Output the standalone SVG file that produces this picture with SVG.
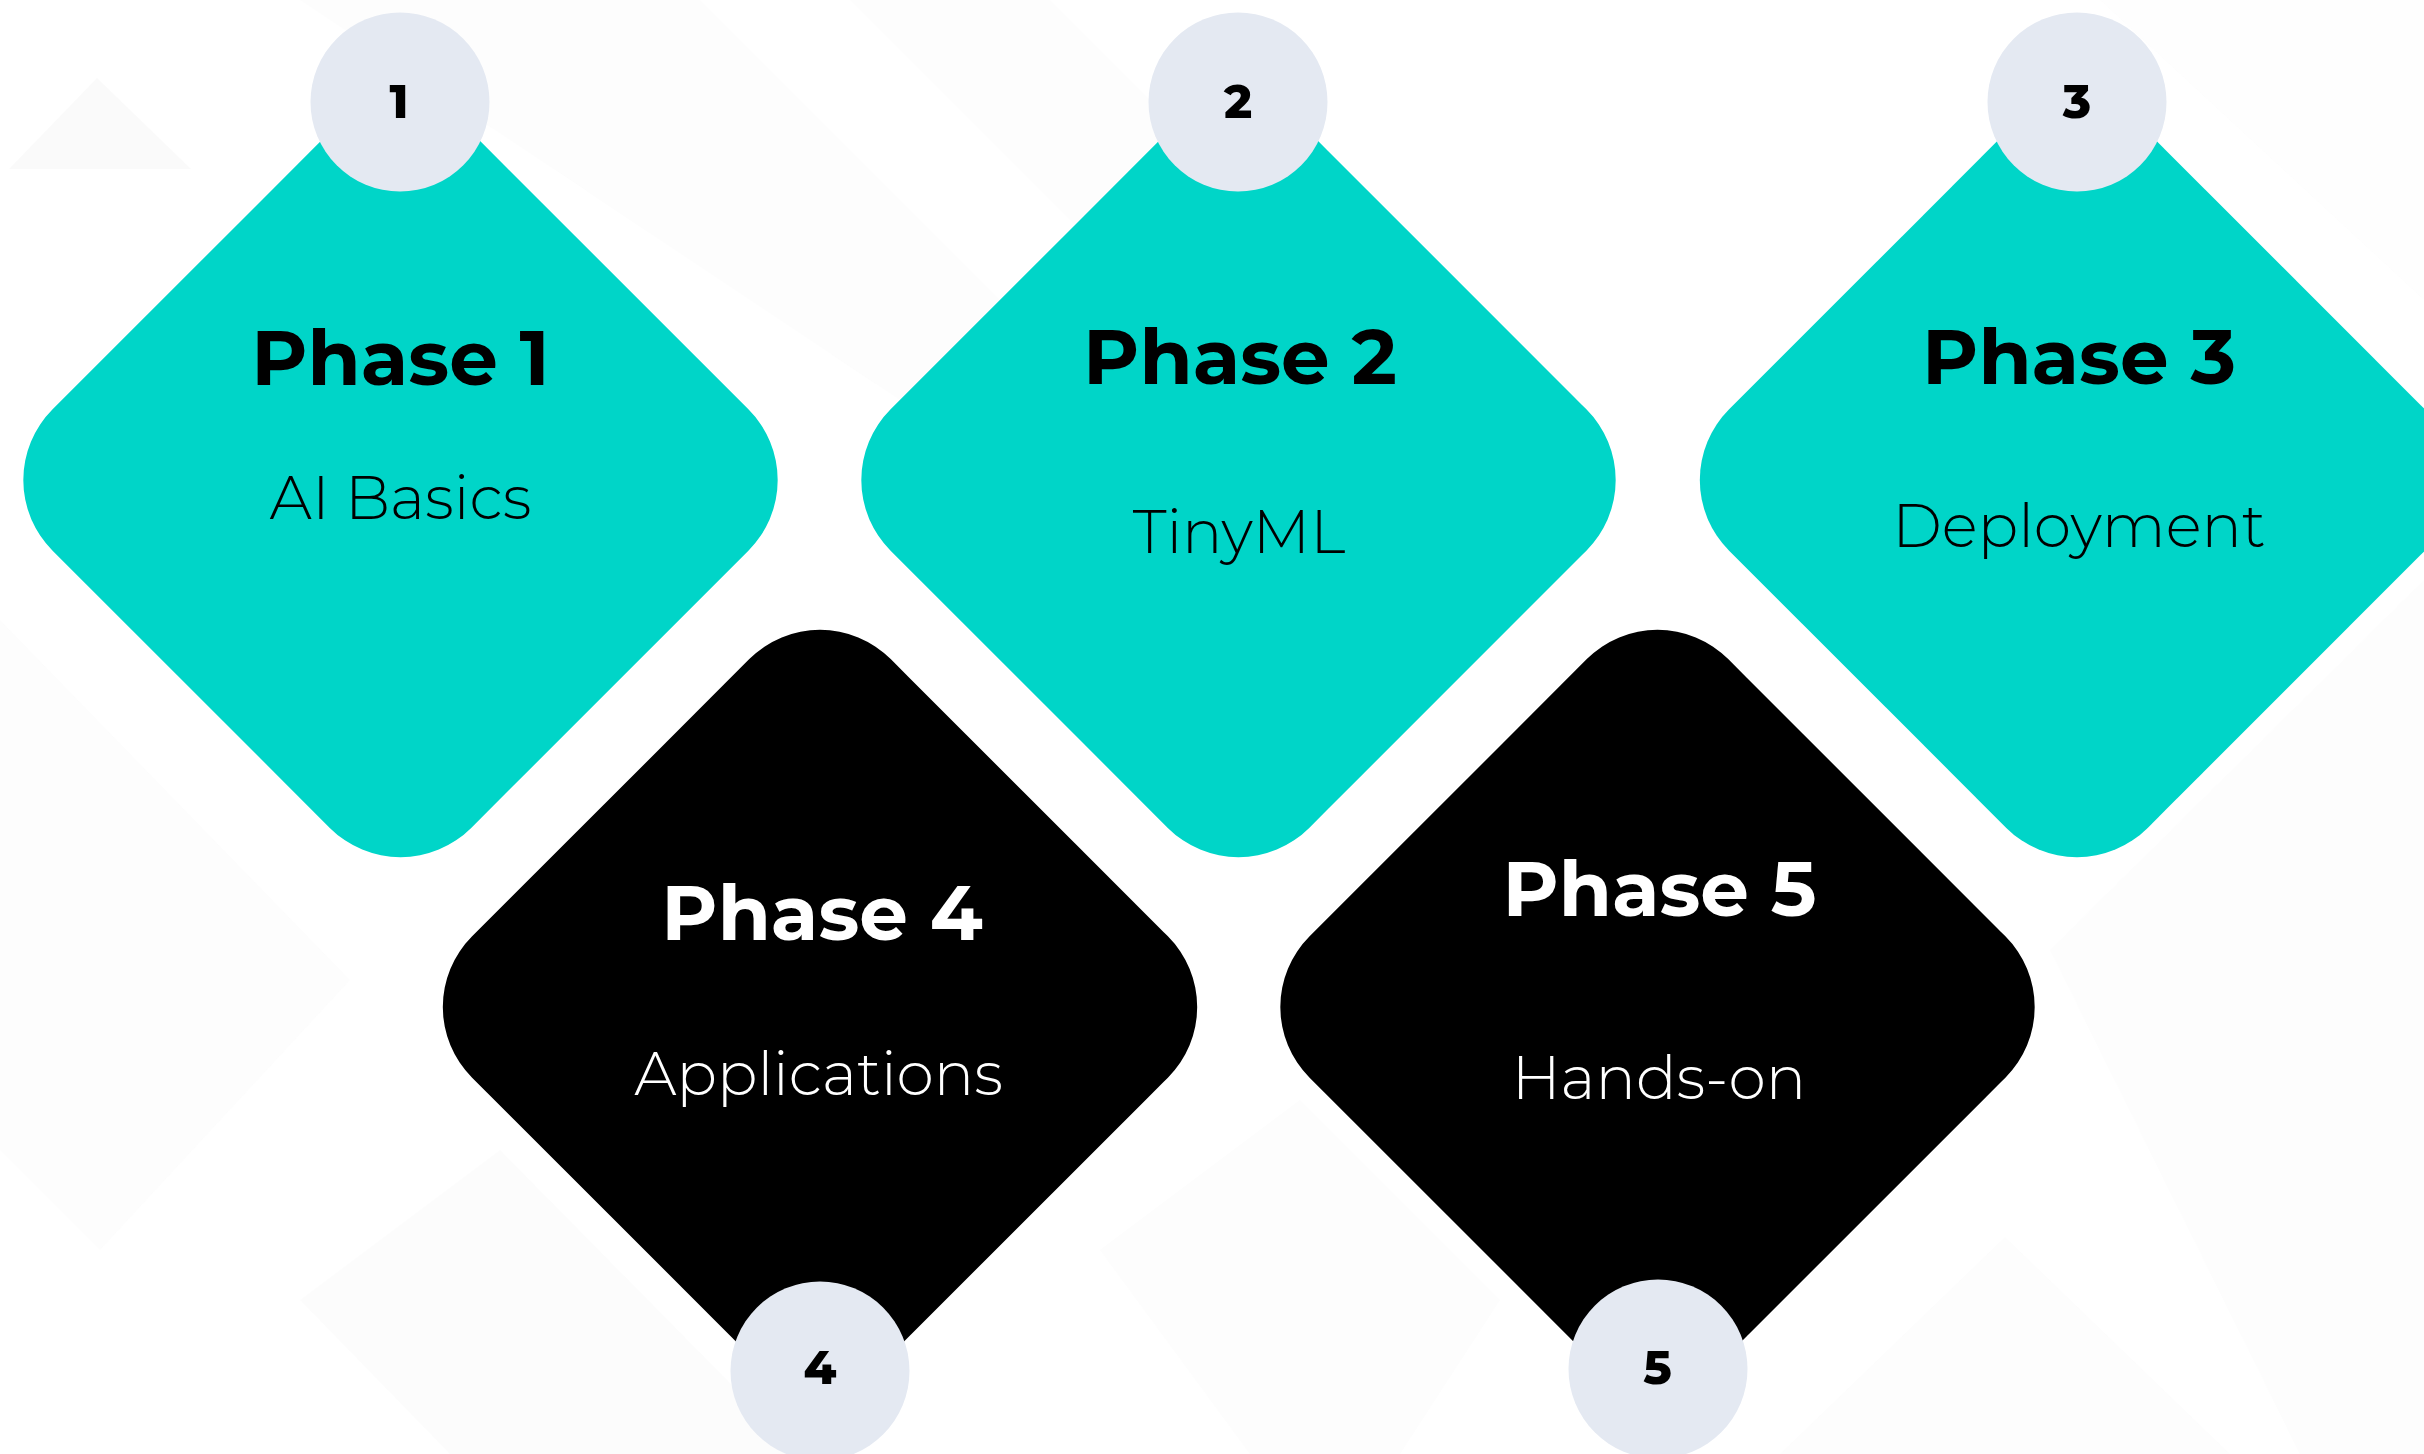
<svg xmlns="http://www.w3.org/2000/svg" width="2424" height="1454" viewBox="0 0 2424 1454">
<style>
.teal{fill:#00D5C8}
.dark{fill:#000000}
.badge{fill:#E4E9F2}
.bg{fill:#EFEFEF}
.title{font-family:Montserrat,Inter,"Noto Sans","Liberation Sans",sans-serif;font-weight:700;font-size:77px;text-anchor:middle}
.sub{font-family:Montserrat,Inter,"Noto Sans","Liberation Sans",sans-serif;font-weight:300;font-size:60px;text-anchor:middle}
.num{font-family:Montserrat,Inter,"Noto Sans","Liberation Sans",sans-serif;font-weight:800;font-size:47px;text-anchor:middle;fill:#000}
.onteal{fill:#000}
.ondark{fill:#fff}
</style>
<rect width="2424" height="1454" fill="#FFFFFF"/>
<g id="background" opacity="0.5">
  <polygon class="bg" points="97,78 191,169 9,169" opacity="0.6"/>
  <polygon class="bg" points="300,0 700,0 1100,400 900,400" opacity="0.3"/>
  <polygon class="bg" points="850,0 1050,0 1450,400 1250,400" opacity="0.25"/>
  <polygon class="bg" points="0,620 350,980 100,1250 0,1150" opacity="0.3"/>
  <polygon class="bg" points="300,1300 500,1150 800,1454 450,1454" opacity="0.35"/>
  <polygon class="bg" points="2050,950 2424,580 2424,1454 2300,1454" opacity="0.25"/>
  <polygon class="bg" points="1780,1454 2005,1237 2230,1454" opacity="0.3"/>
  <polygon class="bg" points="1100,1250 1300,1100 1500,1300 1400,1454 1250,1454" opacity="0.25"/>
  <polygon class="bg" points="2100,0 2424,0 2424,300" opacity="0.2"/>
</g>
<g id="connectors"></g>
<g id="phase1">
  <rect class="teal" x="104.5" y="184" width="592" height="592" rx="100" transform="rotate(45 400.5 480)"/>
  <text class="title onteal" x="400.5" y="385">Phase 1</text>
  <text class="sub onteal" x="400.5" y="519">AI Basics</text>
  <circle class="badge" cx="400" cy="102" r="89.5"/>
  <text class="num" x="399" y="118">1</text>
</g>
<g id="phase2">
  <rect class="teal" x="942.5" y="184" width="592" height="592" rx="100" transform="rotate(45 1238.5 480)"/>
  <text class="title onteal" x="1240" y="384">Phase 2</text>
  <text class="sub onteal" x="1239" y="553">TinyML</text>
  <circle class="badge" cx="1238" cy="102" r="89.5"/>
  <text class="num" x="1238" y="118">2</text>
</g>
<g id="phase3">
  <rect class="teal" x="1781" y="184" width="592" height="592" rx="100" transform="rotate(45 2077 480)"/>
  <text class="title onteal" x="2079" y="384">Phase 3</text>
  <text class="sub onteal" x="2079" y="547">Deployment</text>
  <circle class="badge" cx="2077" cy="102" r="89.5"/>
  <text class="num" x="2077" y="118">3</text>
</g>
<g id="phase4">
  <rect class="dark" x="524" y="711" width="592" height="592" rx="100" transform="rotate(45 820 1007)"/>
  <text class="title ondark" x="822" y="940">Phase 4</text>
  <text class="sub ondark" x="818.5" y="1095">Applications</text>
  <circle class="badge" cx="820" cy="1371" r="89.5"/>
  <text class="num" x="820" y="1384">4</text>
</g>
<g id="phase5">
  <rect class="dark" x="1361.5" y="711" width="592" height="592" rx="100" transform="rotate(45 1657.5 1007)"/>
  <text class="title ondark" x="1659.5" y="915.5">Phase 5</text>
  <text class="sub ondark" x="1659" y="1099">Hands-on</text>
  <circle class="badge" cx="1658" cy="1369" r="89.5"/>
  <text class="num" x="1657.5" y="1384">5</text>
</g>
</svg>
